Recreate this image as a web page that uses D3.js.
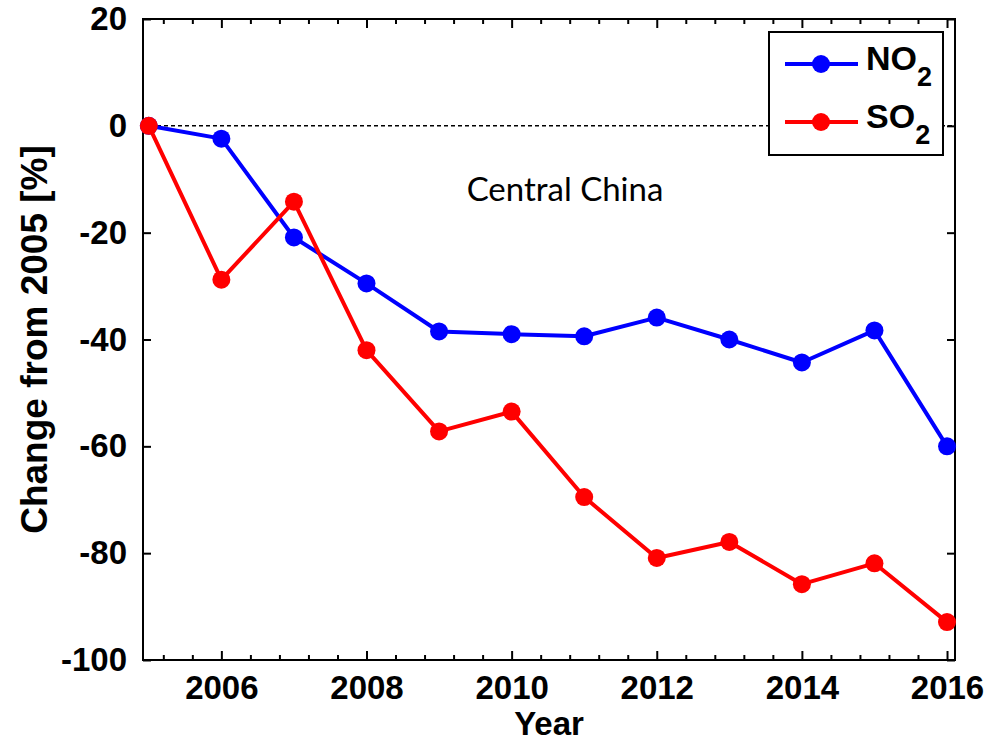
<!DOCTYPE html>
<html>
<head>
<meta charset="utf-8">
<script src="https://cdn.jsdelivr.net/npm/d3@7"></script>
<style>
  html, body { margin: 0; padding: 0; background: #fff; }
  svg { display: block; }
  .tick text { font-family: "Liberation Sans", Arial, sans-serif; font-weight: bold; }
</style>
</head>
<body>
<svg id="chart" width="989" height="742"></svg>
<script>
// Yearly change relative to 2005 for Central China
const years = [2005, 2006, 2007, 2008, 2009, 2010, 2011, 2012, 2013, 2014, 2015, 2016];
const no2 = [0, -2.4, -20.9, -29.5, -38.5, -39.0, -39.4, -35.9, -40.0, -44.3, -38.3, -60.0];
const so2 = [0, -28.8, -14.2, -42.0, -57.2, -53.5, -69.5, -80.9, -77.9, -85.8, -81.9, -92.9];
const xTickValues = [2006, 2008, 2010, 2012, 2014, 2016];
const yTickValues = [20, 0, -20, -40, -60, -80, -100];
const seriesNames = ["NO", "SO"];
const seriesColors = ["#0000ff", "#ff0000"];

(function draw() {
  const svg = d3.select("#chart");
  const pl = 143, pr = 955, pt = 19, pb = 660;

  const x = d3.scaleLinear().domain([2004.92, 2016.11]).range([pl, pr]);
  const y = d3.scaleLinear().domain([20, -100]).range([pt, pb]);

  const font = '"Liberation Sans", Arial, sans-serif';

  // minor x ticks every 0.4 years (skipping the labelled ones)
  const minorX = d3.range(0, 28).map(i => +(2005.2 + i * 0.4).toFixed(1))
    .filter(v => v <= 2016.05 && !xTickValues.includes(v));

  // zero reference line
  svg.append("line")
    .attr("x1", pl).attr("x2", pr)
    .attr("y1", y(0)).attr("y2", y(0))
    .attr("stroke", "#000").attr("stroke-width", 1.5)
    .attr("stroke-dasharray", "4,3");

  // axes: bottom / top / left / right with inward ticks
  const gx = svg.append("g").attr("transform", `translate(0,${pb})`)
    .call(d3.axisBottom(x).tickValues(xTickValues).tickFormat(d => String(d)).tickSize(-9).tickPadding(16));
  const gxt = svg.append("g").attr("transform", `translate(0,${pt})`)
    .call(d3.axisTop(x).tickValues(xTickValues).tickFormat("").tickSize(-9));
  const gy = svg.append("g").attr("transform", `translate(${pl},0)`)
    .call(d3.axisLeft(y).tickValues(yTickValues).tickFormat(d => String(d)).tickSize(-8).tickPadding(16));
  const gyr = svg.append("g").attr("transform", `translate(${pr},0)`)
    .call(d3.axisRight(y).tickValues(yTickValues).tickFormat("").tickSize(-8));

  // minor ticks on bottom and top
  const minorBottom = svg.append("g").attr("transform", `translate(0,${pb})`)
    .call(d3.axisBottom(x).tickValues(minorX).tickFormat("").tickSize(-5));
  const minorTop = svg.append("g").attr("transform", `translate(0,${pt})`)
    .call(d3.axisTop(x).tickValues(minorX).tickFormat("").tickSize(-5));

  [gx, gxt, gy, gyr, minorBottom, minorTop].forEach(g => {
    g.select(".domain").remove();
    g.selectAll(".tick line").attr("stroke", "#000").attr("stroke-width", 2);
  });
  gx.selectAll(".tick text").attr("font-size", 33).attr("fill", "#000").attr("dy", "0.71em");
  gy.selectAll(".tick text").attr("font-size", 33).attr("fill", "#000");

  // plot frame
  svg.append("rect")
    .attr("x", pl).attr("y", pt)
    .attr("width", pr - pl).attr("height", pb - pt)
    .attr("fill", "none").attr("stroke", "#000").attr("stroke-width", 2);

  // series
  const line = d3.line().x((d, i) => x(years[i])).y(d => y(d));
  [no2, so2].forEach((vals, k) => {
    const g = svg.append("g");
    g.append("path").datum(vals)
      .attr("d", line)
      .attr("fill", "none")
      .attr("stroke", seriesColors[k])
      .attr("stroke-width", 4)
      .attr("stroke-linejoin", "round");
    g.selectAll("circle").data(vals).enter().append("circle")
      .attr("cx", (d, i) => x(years[i]))
      .attr("cy", d => y(d))
      .attr("r", 9)
      .attr("fill", seriesColors[k]);
  });

  // region label
  svg.append("text")
    .attr("x", 565).attr("y", 201)
    .attr("text-anchor", "middle")
    .attr("font-family", 'Lato, "Open Sans", sans-serif')
    .attr("font-size", 33)
    .attr("fill", "#000")
    .text("Central China");

  // axis titles
  svg.append("text")
    .attr("x", (pl + pr) / 2).attr("y", 735)
    .attr("text-anchor", "middle")
    .attr("font-family", font).attr("font-weight", "bold")
    .attr("font-size", 33)
    .text("Year");

  svg.append("text")
    .attr("transform", `translate(47,${(pt + pb) / 2}) rotate(-90)`)
    .attr("text-anchor", "middle")
    .attr("font-family", font).attr("font-weight", "bold")
    .attr("font-size", 37)
    .text("Change from 2005 [%]");

  // legend
  const legend = svg.append("g");
  legend.append("rect")
    .attr("x", 769).attr("y", 32)
    .attr("width", 174).attr("height", 123)
    .attr("fill", "#fff").attr("stroke", "#000").attr("stroke-width", 2);
  seriesNames.forEach((name, k) => {
    const ly = 64 + k * 58;
    legend.append("line")
      .attr("x1", 785).attr("x2", 858).attr("y1", ly).attr("y2", ly)
      .attr("stroke", seriesColors[k]).attr("stroke-width", 4);
    legend.append("circle")
      .attr("cx", 821).attr("cy", ly).attr("r", 9)
      .attr("fill", seriesColors[k]);
    const t = legend.append("text")
      .attr("x", 866).attr("y", ly + 6)
      .attr("font-family", font).attr("font-weight", "bold")
      .attr("font-size", 34)
      .attr("fill", "#000");
    t.append("tspan").text(name);
    t.append("tspan").attr("font-size", 27).attr("dy", 16).text("2");
  });
})();
</script>
</body>
</html>
